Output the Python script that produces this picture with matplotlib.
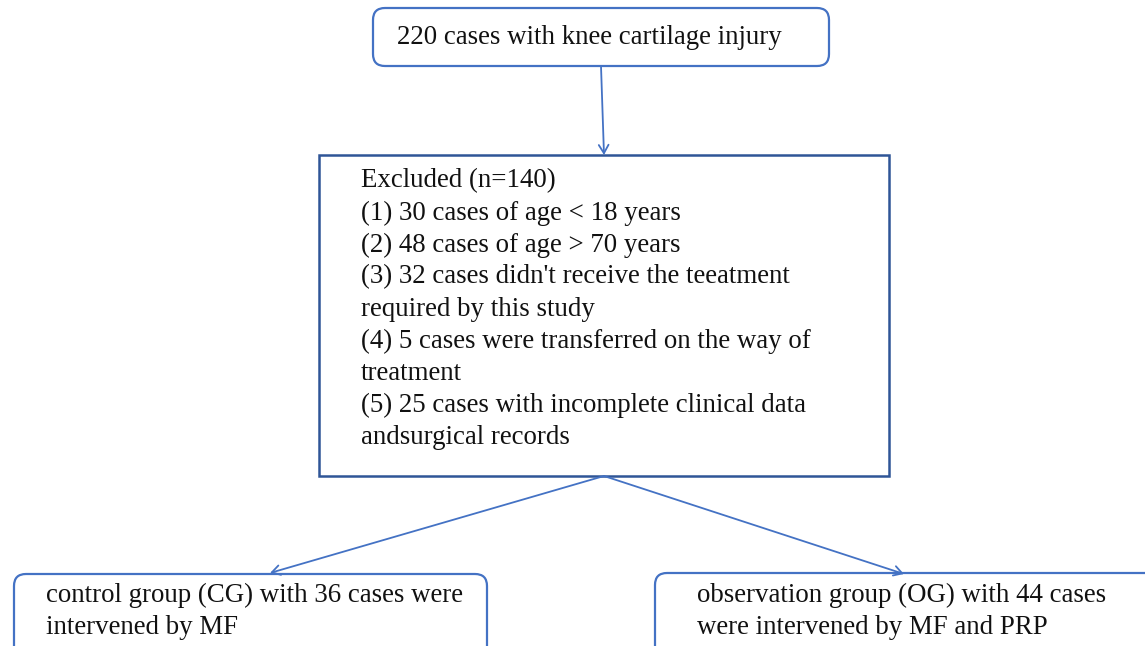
import matplotlib.pyplot as plt
from matplotlib.patches import FancyBboxPatch, Rectangle

# ================= TEXT =================
top_text = "220 cases with knee cartilage injury"
excluded_lines = [
    "Excluded (n=140)",
    "(1) 30 cases of age < 18 years",
    "(2) 48 cases of age > 70 years",
    "(3) 32 cases didn't receive the teeatment",
    "required by this study",
    "(4) 5 cases were transferred on the way of",
    "treatment",
    "(5) 25 cases with incomplete clinical data",
    "andsurgical records",
]
cg_lines = ["control group (CG) with 36 cases were", "intervened by MF"]
og_lines = ["observation group (OG) with 44 cases", "were intervened by MF and PRP"]

# ================= STYLE =================
BLUE = "#4472C4"
DARK_BLUE = "#2F5597"
FONT = "Liberation Serif"
FS = 19.4
LINE_H = 32

W, H = 1145, 646
fig = plt.figure(figsize=(W / 100, H / 100), dpi=100)
ax = fig.add_axes([0, 0, 1, 1])
ax.set_xlim(0, W)
ax.set_ylim(H, 0)
ax.set_aspect("equal")
ax.axis("off")


def rounded(x0, y0, x1, y1):
    ax.add_patch(FancyBboxPatch((x0, y0), x1 - x0, y1 - y0,
                                boxstyle="round,pad=0,rounding_size=12",
                                fc="white", ec=BLUE, lw=1.6))


def lines(x, y0, items):
    for i, s in enumerate(items):
        ax.text(x, y0 + i * LINE_H, s, fontsize=FS, family=FONT,
                ha="left", va="center", color="#111111")


def arrow(p0, p1):
    ax.annotate("", xy=p1, xytext=p0,
                arrowprops=dict(arrowstyle="->,head_length=0.6,head_width=0.35",
                                color=BLUE, lw=1.3, shrinkA=0, shrinkB=0))


# top box
rounded(373, 8, 829, 66)
lines(397, 38, [top_text])

# excluded box
ax.add_patch(Rectangle((319, 155), 889 - 319, 476 - 155, fc="white", ec=DARK_BLUE, lw=1.8))
lines(361, 181, excluded_lines)

# bottom boxes
rounded(14, 574, 487, 665)
lines(46, 595, cg_lines)
rounded(655, 573, 1160, 665)
lines(697, 595, og_lines)

# arrows
arrow((601, 66), (604, 155))
arrow((604, 476), (270, 573))
arrow((604, 476), (904, 574))

fig.savefig("out.png", dpi=100)
